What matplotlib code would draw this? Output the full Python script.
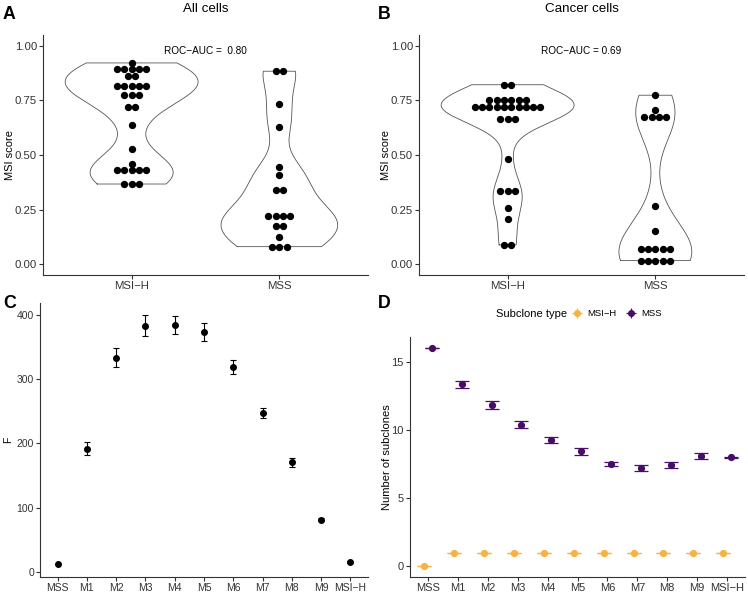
import numpy as np
import matplotlib.pyplot as plt
from matplotlib.lines import Line2D
from matplotlib.legend_handler import HandlerTuple

plt.rcParams['font.family'] = ['Liberation Sans', 'DejaVu Sans']

W, H = 748, 592
MINUS = '\u2212'

groups = ['MSI' + MINUS + 'H', 'MSS']

# A: all cells, MSI score per sample (binned dot rows: value, count)
all_msih_val = [0.922, 0.894, 0.860, 0.814, 0.776, 0.718, 0.636, 0.528, 0.457, 0.430, 0.367]
all_msih_cnt = [1, 5, 2, 5, 3, 2, 1, 1, 1, 5, 3]
all_mss_val = [0.884, 0.734, 0.628, 0.444, 0.407, 0.340, 0.221, 0.173, 0.123, 0.080]
all_mss_cnt = [2, 1, 1, 1, 1, 2, 4, 2, 1, 3]

# B: cancer cells
can_msih_val = [0.822, 0.753, 0.720, 0.665, 0.483, 0.334, 0.257, 0.205, 0.088]
can_msih_cnt = [2, 6, 10, 3, 1, 3, 1, 1, 2]
can_mss_val = [0.774, 0.707, 0.676, 0.266, 0.150, 0.071, 0.016]
can_mss_cnt = [1, 1, 4, 1, 1, 5, 5]

auc_all = 'ROC' + MINUS + 'AUC =  0.80'
auc_can = 'ROC' + MINUS + 'AUC = 0.69'

# C: F statistic per subclone threshold
c_labels = ['MSS', 'M1', 'M2', 'M3', 'M4', 'M5', 'M6', 'M7', 'M8', 'M9', 'MSI' + MINUS + 'H']
c_f = [12.4, 192.0, 333.0, 383.0, 384.0, 372.5, 319.0, 247.0, 171.0, 81.5, 16.0]
c_lo = [12.4, 182.0, 318.0, 367.0, 370.0, 358.5, 308.5, 240.0, 163.5, 79.5, 15.0]
c_hi = [12.4, 201.5, 348.0, 399.0, 398.0, 386.5, 330.0, 254.5, 178.0, 83.5, 17.0]

# D: number of subclones by type
d_mss = [16.03, 13.38, 11.87, 10.40, 9.27, 8.44, 7.51, 7.22, 7.46, 8.07, 8.00]
d_mss_err = [0.02, 0.25, 0.28, 0.26, 0.24, 0.26, 0.18, 0.23, 0.22, 0.22, 0.03]
d_msih = [0, 1, 1, 1, 1, 1, 1, 1, 1, 1, 1]
d_msih_err = [0, 0, 0, 0, 0, 0, 0, 0, 0, 0, 0]

col_msih = '#F9B23C'
col_mss = '#4A0C6B'
axis_col = '#333333'
text_col = '#333333'
bw_adjust = 0.8


def add_axes(fig, l, t, r, b):
    return fig.add_axes([l / W, 1 - b / H, (r - l) / W, (b - t) / H])


def style(ax, fs):
    for s in ['top', 'right']:
        ax.spines[s].set_visible(False)
    for s in ['left', 'bottom']:
        ax.spines[s].set_color(axis_col)
        ax.spines[s].set_linewidth(0.8)
    ax.tick_params(length=2.6, width=0.8, color=axis_col, labelcolor=text_col,
                   labelsize=fs, pad=1.8)


def kde(vals, cnts):
    x = np.repeat(vals, cnts)
    n = len(x)
    sd = x.std(ddof=1)
    q75, q25 = np.percentile(x, [75, 25])
    bw = bw_adjust * 0.9 * min(sd, (q75 - q25) / 1.34) * n ** -0.2
    grid = np.linspace(x.min(), x.max(), 512)
    d = np.exp(-0.5 * ((grid[:, None] - x[None, :]) / bw) ** 2).sum(1)
    d = d / (n * bw * np.sqrt(2 * np.pi))
    return grid, d


def violin_panel(ax, data, auc):
    dens = [kde(v, c) for v, c in data]
    dmax = max(d.max() for g, d in dens)
    ax.set_xlim(0.4, 2.6)
    ax.set_ylim(-0.05, 1.05)
    style(ax, 8.2)
    w_px = ax.get_window_extent().width
    dot_px = 7.3
    dx = dot_px / (w_px / 2.2)
    for i, ((g, d), (vals, cnts)) in enumerate(zip(dens, data)):
        xc = i + 1
        hw = 0.45 * d / dmax
        xs = np.concatenate([xc - hw, (xc + hw)[::-1], [xc - hw[0]]])
        ys = np.concatenate([g, g[::-1], [g[0]]])
        ax.plot(xs, ys, color='#555555', lw=0.6)
        for v, c in zip(vals, cnts):
            offs = (np.arange(c) - (c - 1) / 2) * dx
            ax.scatter(xc + offs, np.full(c, v), s=dot_px ** 2 * 0.52, color='black',
                       linewidths=0, zorder=3)
    ax.set_xticks([1, 2], groups)
    ax.set_yticks([0, 0.25, 0.5, 0.75, 1.0], ['0.00', '0.25', '0.50', '0.75', '1.00'])
    ax.set_ylabel('MSI score', fontsize=8)
    ax.yaxis.set_label_coords(-0.085, 0.5)
    ax.text(1.5, 0.978, auc, ha='center', va='center', fontsize=7.2, color='black')


fig = plt.figure(figsize=(W / 100, H / 100), dpi=100)

axA = add_axes(fig, 43, 35, 368, 275)
violin_panel(axA, [(all_msih_val, all_msih_cnt), (all_mss_val, all_mss_cnt)], auc_all)
axB = add_axes(fig, 419, 35, 744, 275)
violin_panel(axB, [(can_msih_val, can_msih_cnt), (can_mss_val, can_mss_cnt)], auc_can)

fig.text(205.5 / W, 1 - 11.7 / H, 'All cells', ha='center', va='baseline', fontsize=9.6)
fig.text(581.5 / W, 1 - 11.7 / H, 'Cancer cells', ha='center', va='baseline', fontsize=9.6)

# C
axC = add_axes(fig, 40, 303, 368, 577)
style(axC, 7.5)
xc = np.arange(1, len(c_labels) + 1)
c_f_arr = np.array(c_f)
axC.errorbar(xc, c_f, yerr=[c_f_arr - np.array(c_lo), np.array(c_hi) - c_f_arr],
             fmt='o', color='black', ms=4.0, elinewidth=0.8, capsize=2.3, capthick=0.8)
axC.set_xlim(0.4, len(c_labels) + 0.6)
axC.set_ylim(-7.4, 418)
axC.set_xticks(xc, c_labels)
axC.set_yticks([0, 100, 200, 300, 400])
axC.set_ylabel('F', fontsize=7.5)
axC.yaxis.set_label_coords(-0.082, 0.5)

# D
axD = add_axes(fig, 410, 337, 745, 577)
style(axD, 8)
dodge = 0.125
axD.errorbar(xc - dodge, d_msih, yerr=d_msih_err, fmt='o', color=col_msih, ms=4.2,
             elinewidth=0.9, capsize=4.8, capthick=0.9)
axD.errorbar(xc + dodge, d_mss, yerr=d_mss_err, fmt='o', color=col_mss, ms=4.2,
             elinewidth=0.9, capsize=4.8, capthick=0.9)
axD.set_xlim(0.4, len(c_labels) + 0.6)
axD.set_ylim(-0.8, 16.85)
axD.set_xticks(xc, c_labels)
axD.set_yticks([0, 5, 10, 15])
axD.set_ylabel('Number of subclones', fontsize=8)
axD.yaxis.set_label_coords(-0.055, 0.5)

fig.text(496 / W, 1 - 314 / H, 'Subclone type', ha='left', va='center', fontsize=8)
handles = [(Line2D([], [], marker='+', ms=7, mew=0.9, color=c, ls=''),
            Line2D([], [], marker='o', ms=4, color=c, ls='')) for c in (col_msih, col_mss)]
fig.legend(handles, groups, handler_map={tuple: HandlerTuple(ndivide=1)},
           loc='center left', bbox_to_anchor=(571 / W, 1 - 314 / H), ncol=2,
           frameon=False, fontsize=6.8, handlelength=1.3, handletextpad=0.45,
           columnspacing=0.9, borderpad=0, borderaxespad=0)

for lab, x, y in [('A', 3, 19.3), ('B', 378, 19.3), ('C', 3, 308.3), ('D', 378, 308.3)]:
    fig.text(x / W, 1 - y / H, lab, fontsize=12.8, fontweight='bold', va='baseline')

fig.savefig('out.png', dpi=100)
